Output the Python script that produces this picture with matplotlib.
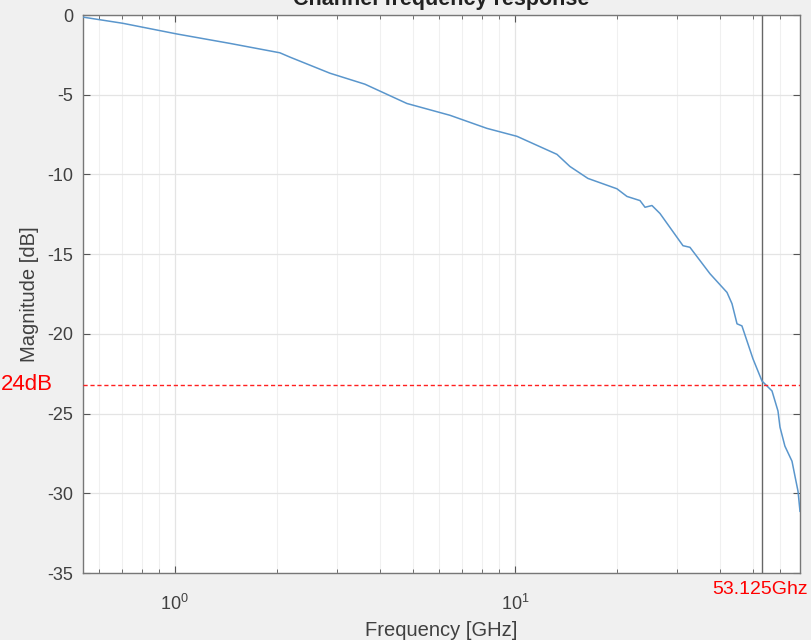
import numpy as np
import matplotlib
matplotlib.use("Agg")
import matplotlib.pyplot as plt
from matplotlib.ticker import LogLocator, NullFormatter, FixedLocator

plt.rcParams['font.family'] = ['Liberation Sans', 'DejaVu Sans']
plt.rcParams['mathtext.fontset'] = 'custom'
plt.rcParams['mathtext.rm'] = 'Liberation Sans'
plt.rcParams['mathtext.it'] = 'Liberation Sans'

# Data (frequency in GHz, magnitude in dB)
freq_ghz = [0.536, 0.703, 1.014, 1.451, 2.036, 2.179, 2.857, 3.622, 4.812, 6.44,
            8.27, 10.14, 13.29, 14.51, 16.39, 19.95, 21.35, 23.32, 24.13, 25.29,
            26.7, 31.2, 32.7, 37.46, 42.03, 43.48, 44.98, 46.5, 50.12, 53.27,
            57.0, 59.36, 60.17, 62.2, 65.27, 66.6, 67.98, 68.9]
mag_db = [-0.13, -0.52, -1.19, -1.78, -2.37, -2.64, -3.65, -4.34, -5.55, -6.29,
          -7.11, -7.61, -8.74, -9.50, -10.25, -10.90, -11.38, -11.64, -12.06, -11.95,
          -12.45, -14.47, -14.57, -16.23, -17.40, -18.11, -19.37, -19.50, -21.57, -22.96,
          -23.58, -24.84, -25.85, -27.04, -27.99, -28.93, -29.87, -31.13]

marker_freq = 53.125
marker_db = -23.2
yticks = [0, -5, -10, -15, -20, -25, -30, -35]
xticks = [1, 10]
xtick_labels = [r'$10^0$', r'$10^1$']

fig = plt.figure(figsize=(8.12, 6.4), dpi=100, facecolor='#f0f0f0')
ax = fig.add_axes([83/812, 1-573/640, (800-83)/812, (573-15)/640])
ax.set_facecolor('white')

ax.semilogx(freq_ghz, mag_db, color='#5a96cc', lw=1.1, zorder=3)
ax.axvline(marker_freq, color='#666666', lw=1.0, zorder=2)
ax.axhline(marker_db, color='#ff2020', lw=1.0, ls=(0, (3, 2)), zorder=4)

ax.set_xlim(0.537, 68.9)
ax.set_ylim(-35, 0)
ax.set_yticks(yticks)
ax.set_yticklabels([str(v) for v in yticks])
ax.xaxis.set_major_locator(FixedLocator(xticks))
ax.set_xticklabels(xtick_labels)
ax.xaxis.set_minor_locator(LogLocator(base=10, subs=np.arange(2, 10), numticks=20))
ax.xaxis.set_minor_formatter(NullFormatter())

ax.grid(True, which='major', color='#e4e4e4', lw=0.9, zorder=0)
ax.grid(True, which='minor', axis='x', color='#f0f0f0', lw=0.8, zorder=0)
ax.tick_params(which='both', direction='in', top=True, right=True, colors='#555555',
               labelcolor='#404040', labelsize=13)
ax.tick_params(which='major', length=5)
ax.tick_params(which='minor', length=3)
ax.tick_params(axis='x', which='major', pad=15)
ax.tick_params(axis='y', which='major', pad=7)
for s in ax.spines.values():
    s.set_color('#777777')
    s.set_linewidth(1.0)

ax.set_xlabel('Frequency [GHz]', fontsize=14.5, color='#404040', labelpad=5)
ax.set_ylabel('Magnitude [dB]', fontsize=14.5, color='#404040', labelpad=6)

fig.text(441/812, 1-5/640, 'Channel frequency response', ha='center', va='baseline',
         fontsize=15.5, fontweight='bold', color='#222222')
fig.text(1/812, 1-384/640, '24dB', ha='left', va='center', fontsize=16, color='#ff0000')
fig.text(760/812, 1-590/640, '53.125Ghz', ha='center', va='center', fontsize=14, color='#ff0000')

fig.savefig('out.png', dpi=100, facecolor=fig.get_facecolor())
